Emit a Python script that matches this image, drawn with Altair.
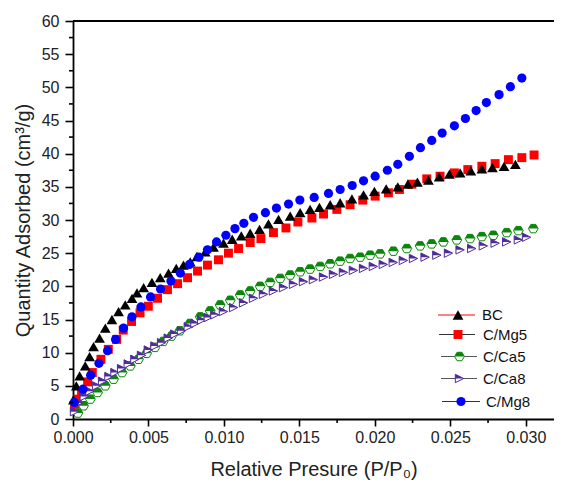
import altair as alt
import pandas as pd

# ---------------- data ----------------
BC_x = [0.00003, 0.00022, 0.00044, 0.00081, 0.0011, 0.00136, 0.00176, 0.00214, 0.00258, 0.00302,
        0.00346, 0.00391, 0.00424, 0.00468, 0.00523, 0.00578, 0.00633, 0.00684, 0.00732, 0.00777,
        0.00821, 0.00876, 0.00931, 0.00997, 0.01055, 0.01115, 0.01174, 0.01236, 0.01295, 0.01362,
        0.01439, 0.01505, 0.01571, 0.01633, 0.01704, 0.0177, 0.01848, 0.01925, 0.01997, 0.02075,
        0.02152, 0.02219, 0.02282, 0.02355, 0.02426, 0.02494, 0.02565, 0.02636, 0.02709, 0.02779,
        0.02856, 0.02931]
BC_y = [2.9, 5.0, 6.5, 8.0, 9.4, 10.9, 12.2, 13.7, 15.0, 16.2,
        17.2, 18.2, 19.0, 19.8, 20.6, 21.3, 22.0, 22.7, 23.2, 23.7,
        24.5, 25.2, 25.9, 26.5, 27.1, 27.6, 28.0, 28.6, 29.4, 30.1,
        30.6, 31.1, 31.6, 31.9, 32.3, 32.6, 33.2, 33.8, 34.3, 34.7,
        35.0, 35.4, 35.7, 36.0, 36.5, 36.9, 37.1, 37.4, 37.7, 37.9,
        38.1, 38.4]

MG5_x = [0.0001, 0.0003, 0.00057, 0.00097, 0.00128, 0.00185, 0.00234, 0.00289, 0.00333, 0.00388,
         0.00444, 0.00499, 0.0056, 0.00626, 0.00693, 0.00759, 0.00825, 0.00891, 0.00964, 0.0103,
         0.01097, 0.01174, 0.01245, 0.01328, 0.01411, 0.0149, 0.01583, 0.0166, 0.01748, 0.01836,
         0.0192, 0.02002, 0.0209, 0.02163, 0.02245, 0.02344, 0.02432, 0.02527, 0.02616, 0.02709,
         0.02797, 0.02885, 0.02974, 0.03055]
MG5_y = [2.1, 3.0, 3.9, 5.6, 7.0, 9.0, 10.5, 12.0, 13.4, 14.7,
         16.0, 17.0, 18.2, 19.5, 20.4, 21.3, 22.3, 23.2, 24.0, 25.0,
         25.7, 26.6, 27.2, 28.1, 28.8, 29.7, 30.3, 30.9, 31.6, 32.3,
         33.0, 33.6, 34.1, 34.6, 35.4, 36.2, 36.6, 37.1, 37.6, 38.1,
         38.5, 39.1, 39.4, 39.8]

CA5_x = [0.00033, 0.0007, 0.00115, 0.00163, 0.00214, 0.00269, 0.00325, 0.0038, 0.00434, 0.00488,
         0.00543, 0.00598, 0.00653, 0.00708, 0.00775, 0.00843, 0.00909, 0.00975, 0.01042, 0.01108,
         0.01174, 0.0124, 0.01306, 0.01373, 0.01439, 0.01505, 0.01571, 0.01638, 0.01704, 0.0177,
         0.01836, 0.01903, 0.01969, 0.02035, 0.02123, 0.02212, 0.023, 0.02377, 0.02454, 0.02543,
         0.02631, 0.02709, 0.02785, 0.02874, 0.02951, 0.0305]
CA5_y = [0.9, 2.0, 3.0, 4.0, 5.0, 6.0, 7.0, 8.0, 9.0, 9.9,
         10.8, 11.7, 12.5, 13.3, 14.4, 15.4, 16.3, 17.2, 17.9, 18.7,
         19.3, 20.0, 20.6, 21.2, 21.7, 22.2, 22.6, 23.0, 23.4, 23.8,
         24.2, 24.4, 24.7, 24.9, 25.3, 25.7, 26.1, 26.4, 26.7, 27.0,
         27.2, 27.5, 27.7, 28.1, 28.4, 28.7]

CA8_x = [0.0001, 0.00035, 0.00075, 0.00112, 0.00156, 0.00196, 0.00238, 0.00278, 0.00322, 0.00366,
         0.0041, 0.00454, 0.00499, 0.00543, 0.00587, 0.00631, 0.00675, 0.00719, 0.00764, 0.00808,
         0.00852, 0.00896, 0.0094, 0.00997, 0.01064, 0.0113, 0.01196, 0.01262, 0.01328, 0.01395,
         0.01461, 0.01527, 0.01593, 0.0166, 0.01726, 0.01792, 0.01858, 0.01925, 0.0199, 0.02056,
         0.02122, 0.02189, 0.02256, 0.02333, 0.02411, 0.02488, 0.02565, 0.02642, 0.02719, 0.02797,
         0.02874, 0.02951, 0.03005]
CA8_y = [1.1, 2.4, 3.4, 4.2, 5.0, 5.7, 6.4, 7.0, 7.6, 8.3,
         9.0, 9.6, 10.4, 11.0, 11.5, 12.2, 12.8, 13.3, 13.9, 14.4,
         14.9, 15.3, 15.7, 16.2, 16.8, 17.5, 18.2, 18.8, 19.3, 19.8,
         20.3, 20.7, 21.0, 21.4, 21.8, 22.1, 22.4, 22.7, 23.0, 23.3,
         23.6, 23.9, 24.2, 24.4, 24.7, 25.0, 25.5, 25.7, 26.1, 26.5,
         26.7, 27.0, 27.4]

MG8_x = [0.00009, 0.00066, 0.00117, 0.00172, 0.00229, 0.00282, 0.00335, 0.00391, 0.0045, 0.00514,
         0.0058, 0.00649, 0.00711, 0.00772, 0.00834, 0.00891, 0.00951, 0.01013, 0.01073, 0.01132,
         0.01196, 0.01275, 0.01348, 0.01428, 0.01503, 0.01598, 0.01693, 0.0177, 0.0185, 0.01925,
         0.02002, 0.02083, 0.02152, 0.02229, 0.02302, 0.02377, 0.02446, 0.02527, 0.026, 0.02671,
         0.02739, 0.02823, 0.02898, 0.02974]
MG8_y = [2.5, 4.5, 6.6, 8.4, 10.3, 12.0, 13.7, 15.4, 16.9, 18.4,
         19.6, 20.8, 22.0, 23.3, 24.4, 25.5, 26.7, 27.7, 28.7, 29.5,
         30.4, 31.1, 31.8, 32.4, 33.0, 33.4, 34.0, 34.6, 35.2, 35.9,
         36.6, 37.5, 38.4, 39.6, 40.9, 42.0, 43.1, 44.2, 45.3, 46.5,
         47.7, 48.9, 50.1, 51.4]

SERIES = ["BC", "C/Mg5", "C/Ca5", "C/Ca8", "C/Mg8"]
COLORS = ["#000000", "#FF0000", "#0A870A", "#4F2A9A", "#0000FF"]
LEGEND_LINE_COLORS = ["#FF0000", "#333333", "#555555", "#555555", "#333333"]

X_MAJOR = [0.0, 0.005, 0.010, 0.015, 0.020, 0.025, 0.030]
X_MINOR = [0.0025, 0.0075, 0.0125, 0.0175, 0.0225, 0.0275]
Y_MAJOR = list(range(0, 61, 5))
Y_MINOR = [2.5 + 5 * i for i in range(12)]

# ---------------- layout ----------------
W, H = 481, 398
XMAX = 0.03187
FONT = "Liberation Sans"

xscale = alt.Scale(domain=[0, XMAX], nice=False, zero=False)
yscale = alt.Scale(domain=[0, 60], nice=False, zero=False)

x_axis = alt.Axis(values=X_MAJOR, format=".3f", tickSize=7, tickWidth=1.6, tickColor="black",
                  domainColor="black", domainWidth=1.8, grid=False,
                  labelFontSize=16, labelColor="#222222", labelPadding=3, labelFont=FONT,
                  title="Relative Presure (P/P\u2080)", titleFontSize=20, titleFontWeight="normal",
                  titleColor="#222222", titlePadding=14, titleFont=FONT, labelFlush=False)
y_axis = alt.Axis(values=Y_MAJOR, tickSize=8, tickWidth=1.6, tickColor="black",
                  domainColor="black", domainWidth=1.8, grid=False,
                  labelFontSize=16, labelColor="#222222", labelPadding=6, labelFont=FONT,
                  title="Quantity Adsorbed (cm\u00b3/g)", titleFontSize=20, titleFontWeight="normal",
                  titleColor="#222222", titlePadding=8, titleFont=FONT, labelFlush=False)

X = alt.X("p:Q", scale=xscale, axis=x_axis)
Y = alt.Y("q:Q", scale=yscale, axis=y_axis)

def frame(xs, ys):
    return pd.DataFrame({"p": xs, "q": ys})

HEX = "M -1 0 L -0.5 -0.866 L 0.5 -0.866 L 1 0 L 0.5 0.866 L -0.5 0.866 Z"
HEX_TOP = "M -1 0 L -0.5 -0.866 L 0.5 -0.866 L 1 0 Z"
TRI_R = "M -1 -1 L 1 0 L -1 1 Z"
TRI_R_TOP = "M -1 -1 L 1 0 L -1 0 Z"

def full_marker(chart, kind, color, enc):
    if kind == "tri":
        return [chart.mark_point(shape="triangle-up", filled=True, color=color, size=115, opacity=1).encode(**enc)]
    if kind == "sq":
        return [chart.mark_point(shape="square", filled=True, color=color, size=80, opacity=1).encode(**enc)]
    if kind == "circ":
        return [chart.mark_point(shape="circle", filled=True, color=color, size=85, opacity=1).encode(**enc)]
    if kind == "hex":
        return [chart.mark_point(shape=HEX, filled=True, fill="white", stroke=color, strokeWidth=1,
                                 size=95, opacity=1).encode(**enc),
                chart.mark_point(shape=HEX_TOP, filled=True, color=color, size=95, opacity=1).encode(**enc)]
    if kind == "trir":
        return [chart.mark_point(shape=TRI_R, filled=True, fill="white", stroke=color, strokeWidth=1,
                                 size=70, opacity=1).encode(**enc),
                chart.mark_point(shape=TRI_R_TOP, filled=True, color=color, size=70, opacity=1).encode(**enc)]

KINDS = ["tri", "sq", "hex", "trir", "circ"]
DATA = [(BC_x, BC_y), (MG5_x, MG5_y), (CA5_x, CA5_y), (CA8_x, CA8_y), (MG8_x, MG8_y)]

layers = []
# draw order: C/Mg5, BC, C/Ca5, C/Ca8, C/Mg8
for i in [1, 0, 2, 3, 4]:
    c = alt.Chart(frame(*DATA[i]))
    layers += full_marker(c, KINDS[i], COLORS[i], {"x": X, "y": Y})

# minor ticks
layers.append(alt.Chart(pd.DataFrame({"p": X_MINOR})).mark_rule(color="black", strokeWidth=1.6)
              .encode(x=X, y=alt.value(H), y2=alt.value(H + 4)))
layers.append(alt.Chart(pd.DataFrame({"q": Y_MINOR})).mark_rule(color="black", strokeWidth=1.6)
              .encode(y=Y, x=alt.value(0), x2=alt.value(-4)))
# top frame line
layers.append(alt.Chart(pd.DataFrame({"a": [0]})).mark_rule(color="black", strokeWidth=1.8)
              .encode(x=alt.value(0), x2=alt.value(W), y=alt.value(0)))

# legend (manual, to show line + marker)
LEG_Y = [294, 313.5, 335.5, 357.5, 380.5]
LEG_LINE = [(365, 402), (366, 402), (368, 404), (368, 404), (369, 407)]
LEG_MARK = [385, 385, 386.5, 386.5, 388]
LEG_TEXT = [409, 410, 410, 410, 413]
for i in range(5):
    c = alt.Chart(pd.DataFrame({"label": [SERIES[i]]}))
    layers.append(c.mark_rule(color=LEGEND_LINE_COLORS[i], strokeWidth=1)
                  .encode(x=alt.value(LEG_LINE[i][0]), x2=alt.value(LEG_LINE[i][1]), y=alt.value(LEG_Y[i])))
    layers += full_marker(c, KINDS[i], COLORS[i], {"x": alt.value(LEG_MARK[i]), "y": alt.value(LEG_Y[i])})
    layers.append(c.mark_text(align="left", baseline="middle", fontSize=15, font=FONT, color="#111111")
                  .encode(x=alt.value(LEG_TEXT[i]), y=alt.value(LEG_Y[i]), text="label:N"))

chart = alt.layer(*layers).properties(
    width=W, height=H,
    padding={"left": 65, "top": 13, "right": 0, "bottom": 62},
    autosize=alt.AutoSizeParams(type="none"),
).configure_view(stroke=None).configure(background="white")

chart.save("out.html", embed_options={"renderer": "svg", "actions": False})
